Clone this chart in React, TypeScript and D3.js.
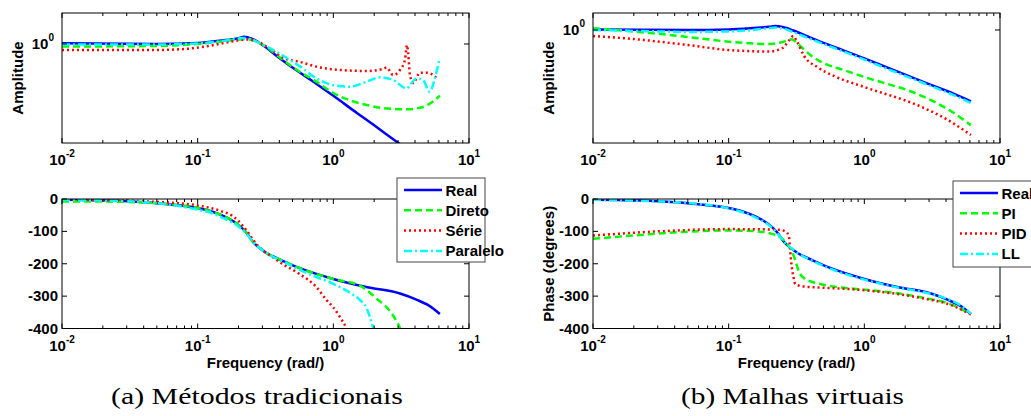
import React from 'react';
import * as d3 from 'd3';

// ---- shared axis settings ----
const xDomain: [number, number] = [0.01, 10];
const decadeTicks = [0.01, 0.1, 1, 10];
const decadeExponents = ['-2', '-1', '0', '1'];
const phaseTicks = [0, -100, -200, -300, -400];
const phaseDomain: [number, number] = [-400, 0];
const ampDomainA: [number, number] = [0.371, 1.364];
const ampDomainB: [number, number] = [0.127, 1.364];

// ---- plant ("Real"), shared by both panels ----
const realAmpFreq = [0.01, 0.05, 0.1, 0.15, 0.2, 0.22, 0.25, 0.3, 0.4, 0.5, 0.7, 1, 1.5, 2, 3, 4.5, 6.1];
const realAmp = [1.008, 1.0, 1.01, 1.035, 1.06, 1.075, 1.055, 0.99, 0.87, 0.79, 0.69, 0.595, 0.5, 0.443, 0.372, 0.314, 0.272];
const realPhaseFreq = [0.01, 0.02, 0.033, 0.05, 0.07, 0.1, 0.13, 0.16, 0.2, 0.23, 0.256, 0.29, 0.32, 0.42, 0.56, 1, 1.75, 3.1, 4.1, 5.1, 6.1];
const realPhase = [-2, -4, -8, -13, -19, -28, -40, -55, -80, -105, -133, -153, -166, -190, -213, -247, -272, -292, -311, -330, -355];

// ---- (a) traditional methods ----
const diretoAmpFreq = [0.01, 0.05, 0.1, 0.15, 0.2, 0.23, 0.25, 0.3, 0.4, 0.5, 0.75, 1, 1.3, 1.76, 2.5, 3.47, 4.57, 5.5, 6.1];
const diretoAmp = [0.975, 0.98, 1.0, 1.025, 1.046, 1.051, 1.041, 0.995, 0.878, 0.794, 0.686, 0.612, 0.571, 0.543, 0.524, 0.52, 0.532, 0.565, 0.596];
const serieAmpFreq = [0.01, 0.05, 0.08, 0.12, 0.17, 0.23, 0.27, 0.35, 0.43, 0.57, 0.75, 1.12, 1.76, 2.33, 2.47, 2.76, 3.1, 3.37, 3.49, 3.56, 3.67, 3.88, 4.35, 4.87, 5.45, 5.9];
const serieAmp = [0.942, 0.942, 0.951, 0.98, 1.02, 1.046, 1.03, 0.942, 0.869, 0.835, 0.797, 0.771, 0.763, 0.779, 0.79, 0.733, 0.771, 0.852, 0.99, 0.914, 0.733, 0.677, 0.75, 0.75, 0.733, 0.697];
const paraleloAmpFreq = [0.01, 0.05, 0.1, 0.15, 0.2, 0.22, 0.25, 0.3, 0.43, 0.57, 0.75, 0.99, 1.32, 1.76, 2.2, 2.76, 3.45, 4.11, 4.58, 5.13, 5.6, 6.05];
const paraleloAmp = [0.995, 0.995, 1.005, 1.03, 1.057, 1.062, 1.046, 0.995, 0.887, 0.797, 0.709, 0.663, 0.652, 0.686, 0.716, 0.697, 0.642, 0.709, 0.697, 0.62, 0.709, 0.858];

const diretoPhaseFreq = [0.01, 0.02, 0.035, 0.05, 0.1, 0.13, 0.16, 0.2, 0.23, 0.256, 0.29, 0.32, 0.42, 0.56, 1, 1.56, 2.14, 2.6, 2.9, 3.1, 3.15];
const diretoPhase = [-8, -8, -10, -13, -28, -40, -55, -80, -105, -133, -153, -166, -190, -213, -247, -267, -312, -345, -375, -400, -410];
const seriePhaseFreq = [0.01, 0.03, 0.05, 0.1, 0.15, 0.18, 0.2, 0.23, 0.26, 0.3, 0.35, 0.42, 0.56, 0.75, 0.89, 1, 1.12, 1.25, 1.28];
const seriePhase = [-2, -5, -9, -20, -38, -52, -68, -98, -130, -158, -177, -200, -231, -272, -312, -335, -365, -400, -410];
const paraleloPhaseFreq = [0.01, 0.03, 0.05, 0.1, 0.13, 0.16, 0.2, 0.23, 0.256, 0.29, 0.32, 0.42, 0.56, 0.75, 1, 1.33, 1.57, 1.75, 1.97, 2.0];
const paraleloPhase = [-3, -7, -13, -33, -45, -62, -85, -108, -133, -153, -166, -192, -218, -241, -262, -290, -312, -335, -400, -410];

// ---- (b) virtual loops ----
const piAmpFreq = [0.01, 0.0277, 0.05, 0.1, 0.2, 0.25, 0.29, 0.33, 0.4, 0.5, 0.7, 1, 2.56, 4, 6.1];
const piAmp = [1.032, 0.942, 0.88, 0.808, 0.774, 0.803, 0.844, 0.76, 0.633, 0.547, 0.482, 0.424, 0.305, 0.24, 0.176];
const pidAmpFreq = [0.01, 0.02, 0.05, 0.1, 0.2, 0.25, 0.28, 0.3, 0.32, 0.36, 0.45, 0.6, 1, 2.56, 4, 6.1];
const pidAmp = [0.896, 0.848, 0.76, 0.694, 0.675, 0.72, 0.833, 0.896, 0.803, 0.622, 0.508, 0.431, 0.353, 0.249, 0.197, 0.147];
const llAmpFreq = [0.01, 0.03, 0.05, 0.1, 0.15, 0.2, 0.22, 0.25, 0.3, 0.4, 0.5, 0.7, 1, 1.5, 2, 3, 4.5, 6.1];
const llAmp = [1.0, 0.975, 0.965, 0.975, 1.0, 1.035, 1.045, 1.03, 0.96, 0.85, 0.775, 0.675, 0.583, 0.488, 0.433, 0.364, 0.306, 0.264];

const piPhaseFreq = [0.01, 0.0277, 0.05, 0.1, 0.15, 0.2, 0.24, 0.27, 0.29, 0.31, 0.33, 0.36, 0.42, 0.5, 0.7, 1, 1.45, 2.56, 4.5, 6.1];
const piPhase = [-123, -108, -101, -97, -99, -106, -118, -140, -158, -190, -225, -245, -257, -265, -274, -280, -287, -303, -328, -356];
const pidPhaseFreq = [0.01, 0.03, 0.1, 0.2, 0.238, 0.265, 0.278, 0.284, 0.29, 0.3, 0.31, 0.353, 0.5, 0.825, 1.45, 2.56, 4.5, 6.1];
const pidPhase = [-113, -100, -93, -94, -95, -102, -115, -159, -200, -240, -263, -270, -274, -279, -289, -305, -330, -357];
const llPhaseFreq = [0.01, 0.033, 0.05, 0.1, 0.13, 0.16, 0.2, 0.23, 0.26, 0.29, 0.32, 0.42, 0.56, 1, 1.75, 3.1, 4.1, 5.1, 6.1];
const llPhase = [-2, -8, -12, -29, -42, -58, -82, -107, -135, -152, -166, -192, -215, -249, -273, -293, -309, -328, -355];

const legendA = ['Real', 'Direto', 'Série', 'Paralelo'];
const legendB = ['Real', 'PI', 'PID', 'LL'];
const captionA = '(a) Métodos tradicionais';
const captionB = '(b) Malhas virtuais';

type LineStyle = { color: string; dash?: string };
const lineStyles: LineStyle[] = [
  { color: '#0000ff' },
  { color: '#00ff00', dash: '7,4' },
  { color: '#ff0000', dash: '2,3' },
  { color: '#00ffff', dash: '8,3,2,3' },
];

const FONT = "'Liberation Sans', Arial, sans-serif";
const LINE_W = 2.5;

type Series = { f: number[]; v: number[] };

function zip(f: number[], v: number[]): [number, number][] {
  return f.map((fx, i) => [fx, v[i]]);
}

function Axes(props: {
  id: string;
  left: number;
  right: number;
  top: number;
  bottom: number;
  kind: 'amp' | 'phase';
  ampDomain?: [number, number];
  series: Series[];
  ylabel?: string;
  xlabel?: string;
}) {
  const { id, left, right, top, bottom, kind, series } = props;
  const x = d3.scaleLog().domain(xDomain).range([left, right]);
  const y =
    kind === 'amp'
      ? d3.scaleLog().domain(props.ampDomain!).range([bottom, top])
      : d3.scaleLinear().domain(phaseDomain).range([bottom, top]);

  const line = d3
    .line<[number, number]>()
    .x((d) => x(d[0]))
    .y((d) => (y as any)(d[1]))
    .curve(d3.curveMonotoneX);

  const minor: number[] = [];
  for (const dec of [0.01, 0.1, 1]) for (let k = 2; k <= 9; k++) minor.push(dec * k);

  const yTicks = kind === 'amp' ? [1] : phaseTicks;
  const major = 5;
  const minorLen = 3;

  return (
    <g>
      <defs>
        <clipPath id={id}>
          <rect x={left} y={top} width={right - left} height={bottom - top} />
        </clipPath>
      </defs>
      <rect x={left} y={top} width={right - left} height={bottom - top} fill="#fff" />
      <g clipPath={`url(#${id})`}>
        {series.map((s, i) => (
          <path
            key={i}
            d={line(zip(s.f, s.v)) || ''}
            fill="none"
            stroke={lineStyles[i].color}
            strokeWidth={LINE_W}
            strokeDasharray={lineStyles[i].dash}
          />
        ))}
      </g>
      {/* frame */}
      <rect x={left} y={top} width={right - left} height={bottom - top} fill="none" stroke="#000" strokeWidth={1} />
      {/* x ticks */}
      {decadeTicks.map((t) => (
        <g key={'xM' + t}>
          <line x1={x(t)} x2={x(t)} y1={bottom} y2={bottom - major} stroke="#000" />
          <line x1={x(t)} x2={x(t)} y1={top} y2={top + major} stroke="#000" />
        </g>
      ))}
      {minor.map((t) => (
        <g key={'xm' + t}>
          <line x1={x(t)} x2={x(t)} y1={bottom} y2={bottom - minorLen} stroke="#000" />
          <line x1={x(t)} x2={x(t)} y1={top} y2={top + minorLen} stroke="#000" />
        </g>
      ))}
      {decadeTicks.map((t, i) => (
        <text
          key={'xl' + t}
          x={x(t)}
          y={bottom + 22}
          textAnchor="middle"
          fontFamily={FONT}
          fontWeight="bold"
          fontSize={15}
        >
          10
          <tspan fontSize={10} dy={-8}>
            {decadeExponents[i]}
          </tspan>
        </text>
      ))}
      {/* y ticks */}
      {yTicks.map((t) => {
        const yy = (y as any)(t);
        return (
          <g key={'y' + t}>
            <line x1={left} x2={left + major} y1={yy} y2={yy} stroke="#000" />
            <line x1={right} x2={right - major} y1={yy} y2={yy} stroke="#000" />
            {kind === 'amp' ? (
              <text x={left - 8} y={yy + 5} textAnchor="end" fontFamily={FONT} fontWeight="bold" fontSize={15}>
                10
                <tspan fontSize={10} dy={-8}>
                  0
                </tspan>
              </text>
            ) : (
              <text x={left - 4} y={yy + 5} textAnchor="end" fontFamily={FONT} fontWeight="bold" fontSize={15}>
                {t}
              </text>
            )}
          </g>
        );
      })}
      {props.ylabel && (
        <text
          transform={`translate(${left - 45},${(top + bottom) / 2}) rotate(-90)`}
          textAnchor="middle"
          dominantBaseline="central"
          fontFamily={FONT}
          fontWeight="bold"
          fontSize={15}
        >
          {props.ylabel}
        </text>
      )}
      {props.xlabel && (
        <text x={(left + right) / 2} y={bottom + 39} textAnchor="middle" fontFamily={FONT} fontWeight="bold" fontSize={15}>
          {props.xlabel}
        </text>
      )}
    </g>
  );
}

function Legend(props: { left: number; top: number; width: number; height: number; labels: string[] }) {
  const { left, top, width, height, labels } = props;
  const step = 20.3;
  return (
    <g>
      <rect x={left} y={top} width={width} height={height} fill="#fff" stroke="#444" strokeWidth={1} />
      {labels.map((lab, i) => {
        const yy = top + 12 + i * step;
        return (
          <g key={lab}>
            <line
              x1={left + 7}
              x2={left + 45}
              y1={yy}
              y2={yy}
              stroke={lineStyles[i].color}
              strokeWidth={LINE_W}
              strokeDasharray={lineStyles[i].dash}
            />
            <text x={left + 48.5} y={yy + 5.5} fontFamily={FONT} fontWeight="bold" fontSize={15}>
              {lab}
            </text>
          </g>
        );
      })}
    </g>
  );
}

export default function App() {
  const real: Series = { f: realAmpFreq, v: realAmp };
  const realPh: Series = { f: realPhaseFreq, v: realPhase };
  return (
    <svg
      width={1031}
      height={416}
      viewBox="0 0 1031 416"
      style={{ position: 'absolute', left: 0, top: 0, background: '#fff' }}
    >
      <rect x={0} y={0} width={1031} height={416} fill="#fff" />
      {/* (a) */}
      <Axes
        id="clipA1"
        left={62}
        right={469}
        top={13}
        bottom={143}
        kind="amp"
        ampDomain={ampDomainA}
        ylabel="Amplitude"
        series={[
          real,
          { f: diretoAmpFreq, v: diretoAmp },
          { f: serieAmpFreq, v: serieAmp },
          { f: paraleloAmpFreq, v: paraleloAmp },
        ]}
      />
      <Axes
        id="clipA2"
        left={62}
        right={469}
        top={199}
        bottom={328.5}
        kind="phase"
        xlabel="Frequency (rad/)"
        series={[
          realPh,
          { f: diretoPhaseFreq, v: diretoPhase },
          { f: seriePhaseFreq, v: seriePhase },
          { f: paraleloPhaseFreq, v: paraleloPhase },
        ]}
      />
      <Legend left={397} top={178} width={88} height={84} labels={legendA} />
      {/* (b) */}
      <Axes
        id="clipB1"
        left={593}
        right={1000}
        top={13}
        bottom={143}
        kind="amp"
        ampDomain={ampDomainB}
        ylabel="Amplitude"
        series={[
          real,
          { f: piAmpFreq, v: piAmp },
          { f: pidAmpFreq, v: pidAmp },
          { f: llAmpFreq, v: llAmp },
        ]}
      />
      <Axes
        id="clipB2"
        left={593}
        right={1000}
        top={199}
        bottom={328.5}
        kind="phase"
        ylabel="Phase (degrees)"
        xlabel="Frequency (rad/)"
        series={[
          realPh,
          { f: piPhaseFreq, v: piPhase },
          { f: pidPhaseFreq, v: pidPhase },
          { f: llPhaseFreq, v: llPhase },
        ]}
      />
      <Legend left={953} top={181} width={90} height={86} labels={legendB} />
      {/* captions */}
      <text x={257} y={404} textAnchor="middle" fontFamily="'Liberation Serif', serif" fontSize={24} textLength={292} lengthAdjust="spacingAndGlyphs">
        {captionA}
      </text>
      <text x={792.5} y={404} textAnchor="middle" fontFamily="'Liberation Serif', serif" fontSize={24} textLength={223} lengthAdjust="spacingAndGlyphs">
        {captionB}
      </text>
    </svg>
  );
}
